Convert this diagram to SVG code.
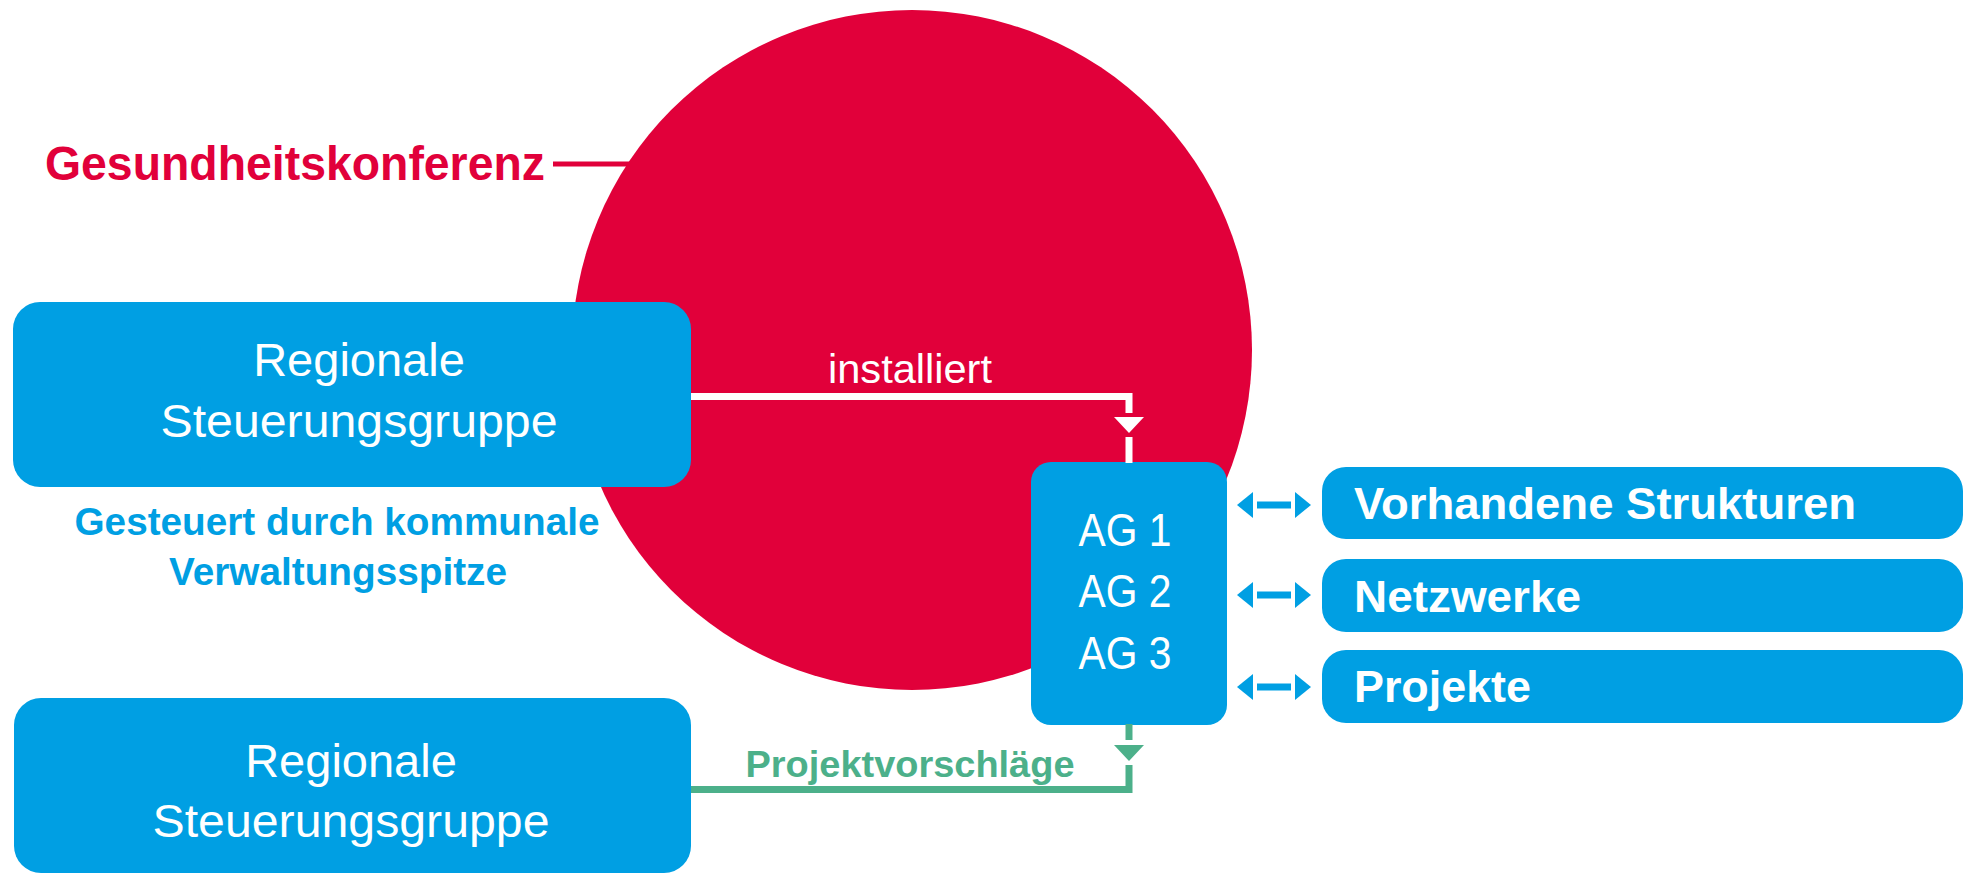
<svg xmlns="http://www.w3.org/2000/svg" width="1973" height="876" viewBox="0 0 1973 876">
  <style>
    .box { fill: #009FE3; }
    .txt { font-family: "Liberation Sans", Arial, sans-serif; }
    .w { fill: #FFFFFF; }
    .b { font-weight: bold; }
    .mid { text-anchor: middle; }
    .wire-white { stroke: #FFFFFF; stroke-width: 7; fill: none; }
    .wire-green { stroke: #4CB08A; stroke-width: 7; fill: none; }
    .wire-blue { stroke: #009FE3; stroke-width: 7; fill: none; }
    .wire-red { stroke: #E1003A; stroke-width: 5; fill: none; }
  </style>
  <defs>
    <polygon id="tri-down" points="-15,0 15,0 0,16"/>
    <g id="dbl-arrow">
      <polygon points="0,0 16,-13 16,13" fill="#009FE3"/>
      <line x1="20" y1="0" x2="54" y2="0" class="wire-blue"/>
      <polygon points="58,-13 58,13 74,0" fill="#009FE3"/>
    </g>
  </defs>

  <rect width="1973" height="876" fill="#FFFFFF"/>

  <!-- leader line of the conference label -->
  <g id="label-leader">
    <line x1="553" y1="164" x2="632" y2="164" class="wire-red"/>
  </g>

  <!-- Gesundheitskonferenz -->
  <g id="konferenz">
    <circle cx="912" cy="350" r="340" fill="#E1003A"/>
    <text x="45" y="180" class="txt b" font-size="49" fill="#E1003A" textLength="500" lengthAdjust="spacingAndGlyphs">Gesundheitskonferenz</text>
  </g>

  <!-- Regionale Steuerungsgruppe (top) -->
  <g id="steuerung-oben">
    <rect x="13" y="302" width="678" height="185" rx="27" class="box"/>
    <text x="359" y="376" class="txt w mid" font-size="47">Regionale</text>
    <text x="359" y="437" class="txt w mid" font-size="47" textLength="397" lengthAdjust="spacingAndGlyphs">Steuerungsgruppe</text>
  </g>

  <!-- caption under the top group -->
  <g id="verwaltung">
    <text x="337" y="535" class="txt b mid" font-size="38" fill="#009FE3" textLength="525" lengthAdjust="spacingAndGlyphs">Gesteuert durch kommunale</text>
    <text x="338" y="585" class="txt b mid" font-size="38" fill="#009FE3" textLength="338" lengthAdjust="spacingAndGlyphs">Verwaltungsspitze</text>
  </g>

  <!-- Arbeitsgruppen -->
  <g id="ag">
    <rect x="1031" y="462" width="196" height="263" rx="20" class="box"/>
    <text x="1125" y="546" class="txt w mid" font-size="46" textLength="93" lengthAdjust="spacingAndGlyphs">AG 1</text>
    <text x="1125" y="607" class="txt w mid" font-size="46" textLength="93" lengthAdjust="spacingAndGlyphs">AG 2</text>
    <text x="1125" y="669" class="txt w mid" font-size="46" textLength="93" lengthAdjust="spacingAndGlyphs">AG 3</text>
  </g>

  <!-- Regionale Steuerungsgruppe (bottom) -->
  <g id="steuerung-unten">
    <rect x="14" y="698" width="677" height="175" rx="27" class="box"/>
    <text x="351" y="777" class="txt w mid" font-size="47">Regionale</text>
    <text x="351" y="837" class="txt w mid" font-size="47" textLength="397" lengthAdjust="spacingAndGlyphs">Steuerungsgruppe</text>
  </g>

  <!-- partner structures -->
  <g id="strukturen">
    <rect x="1322" y="467" width="641" height="72" rx="24" class="box"/>
    <text x="1354" y="519" class="txt w b" font-size="45" textLength="502" lengthAdjust="spacingAndGlyphs">Vorhandene Strukturen</text>
  </g>
  <g id="netzwerke">
    <rect x="1322" y="559" width="641" height="73" rx="24" class="box"/>
    <text x="1354" y="612" class="txt w b" font-size="45" textLength="227" lengthAdjust="spacingAndGlyphs">Netzwerke</text>
  </g>
  <g id="projekte">
    <rect x="1322" y="650" width="641" height="73" rx="24" class="box"/>
    <text x="1354" y="702" class="txt w b" font-size="45" textLength="177" lengthAdjust="spacingAndGlyphs">Projekte</text>
  </g>

  <!-- connectors -->
  <g id="connectors">
    <!-- installiert: top group to AG -->
    <polyline points="691,396.5 1129,396.5 1129,413" class="wire-white"/>
    <use href="#tri-down" x="1129" y="417" fill="#FFFFFF"/>
    <line x1="1129" y1="437" x2="1129" y2="463" class="wire-white"/>
    <text x="910" y="383" class="txt w mid" font-size="40" textLength="164" lengthAdjust="spacingAndGlyphs">installiert</text>

    <!-- Projektvorschläge: bottom group to AG -->
    <line x1="1129" y1="724" x2="1129" y2="740" class="wire-green"/>
    <use href="#tri-down" x="1129" y="745" fill="#4CB08A"/>
    <polyline points="1129,765 1129,789.5 691,789.5" class="wire-green"/>
    <text x="910" y="777" class="txt b mid" font-size="37" fill="#4CB08A" textLength="329" lengthAdjust="spacingAndGlyphs">Projektvorschläge</text>

    <!-- AG exchanges -->
    <use href="#dbl-arrow" x="1237" y="505"/>
    <use href="#dbl-arrow" x="1237" y="595"/>
    <use href="#dbl-arrow" x="1237" y="687"/>
  </g>
</svg>
